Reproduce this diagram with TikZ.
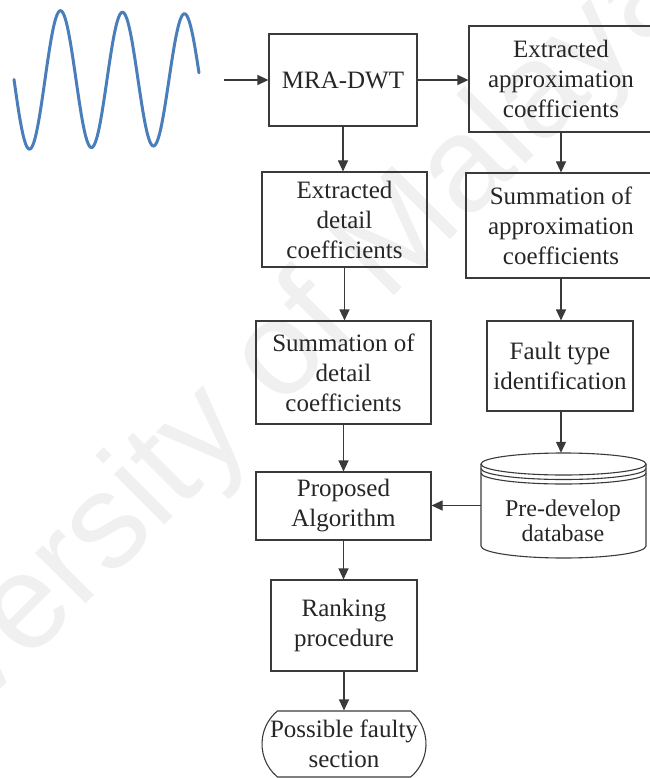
\documentclass[tikz,border=0pt]{standalone}
\usepackage{fontspec}
\setmainfont{Liberation Serif}
\newfontfamily\wmfont{Liberation Sans}
\usetikzlibrary{arrows.meta,shapes.misc}
\definecolor{wave}{HTML}{4A7EBB}
\definecolor{ln}{HTML}{3A3A3A}
\definecolor{wm}{HTML}{F0F0F0}
\begin{document}
\begin{tikzpicture}[x=1pt,y=-1pt,
  box/.style={draw=ln, line width=1.1pt, align=center, inner sep=0pt, text=black!85,
              font=\fontsize{25}{30}\selectfont},
  arr/.style={draw=ln, line width=1.1pt, -{Triangle[length=11pt,width=10pt]}},
  cyl/.style={draw=ln, line width=1.1pt}
]
\useasboundingbox (0,0) rectangle (649,778);
% watermark
\node[anchor=base west, rotate=45, inner sep=0pt, text=wm,
      font=\wmfont\fontsize{135}{135}\selectfont] (wmark) at (-165,855) {University of Malaya};
% input signal
\draw[wave, line width=3pt, line cap=round]
  plot[domain=14:199, samples=160, smooth] (\x, {79.5+(70-0.025*(\x-14))*sin(5.80645*(\x-14))});
% boxes
\node[box, minimum width=148pt, minimum height=92pt] (mra) at (343,80) {MRA-DWT};
\node[box, minimum width=184pt, minimum height=106pt] (approx) at (561,79) {Extracted\\approximation\\coefficients};
\node[box, minimum width=165pt, minimum height=95pt] (det) at (344.5,219.5) {Extracted\\detail\\coefficients};
\node[box, minimum width=190pt, minimum height=105pt] (sumapprox) at (561,225.5) {Summation of\\approximation\\coefficients};
\node[box, minimum width=175pt, minimum height=103pt] (sumdet) at (343.5,372.5) {Summation of\\detail\\coefficients};
\node[box, minimum width=146pt, minimum height=90pt] (fault) at (560,366) {Fault type\\identification};
\node[box, minimum width=175pt, minimum height=68pt] (prop) at (343.5,506) {Proposed\\Algorithm};
\node[box, minimum width=146pt, minimum height=91pt] (rank) at (344,625.5) {Ranking\\procedure};
\node[box, rounded rectangle, rounded rectangle arc length=100,
      minimum width=164pt, minimum height=66pt] (term) at (344,744) {Possible faulty\\section};
% database cylinder
\node[inner sep=0pt, minimum width=165pt, minimum height=105pt] (db) at (563.5,505.5) {};
\draw[cyl] (481,464) -- (481,546) arc[start angle=180, end angle=360, x radius=82.5pt, y radius=12pt] -- (646,464);
\draw[cyl] (563.5,464) ellipse[x radius=82.5pt, y radius=11pt];
\draw[cyl] (481,468.5) arc[start angle=180, end angle=360, x radius=82.5pt, y radius=11pt];
\draw[cyl] (481,473) arc[start angle=180, end angle=360, x radius=82.5pt, y radius=11pt];
\node[align=center, inner sep=0pt, text=black!85, font=\fontsize{24}{25}\selectfont] (dbtext) at (563,521) {Pre-develop\\database};
% connectors
\coordinate (in) at (224,80);
\draw[arr] (in) -- (mra.west);
\draw[arr] (mra.east) -- (approx.west |- mra.east);
\draw[arr] (mra.south) -- (mra.south |- det.north);
\draw[arr] (approx.south) -- (approx.south |- sumapprox.north);
\draw[arr] (det.south) -- (det.south |- sumdet.north);
\draw[arr] (sumapprox.south) -- (sumapprox.south |- fault.north);
\draw[arr] (sumapprox.south |- fault.south) -- (sumapprox.south |- db.north);
\draw[arr] (sumdet.south) -- (sumdet.south |- prop.north);
\draw[arr] (db.west) -- (prop.east |- db.west);
\draw[arr] (prop.south) -- (prop.south |- rank.north);
\draw[arr] (rank.south) -- (rank.south |- term.north);
\end{tikzpicture}
\end{document}
